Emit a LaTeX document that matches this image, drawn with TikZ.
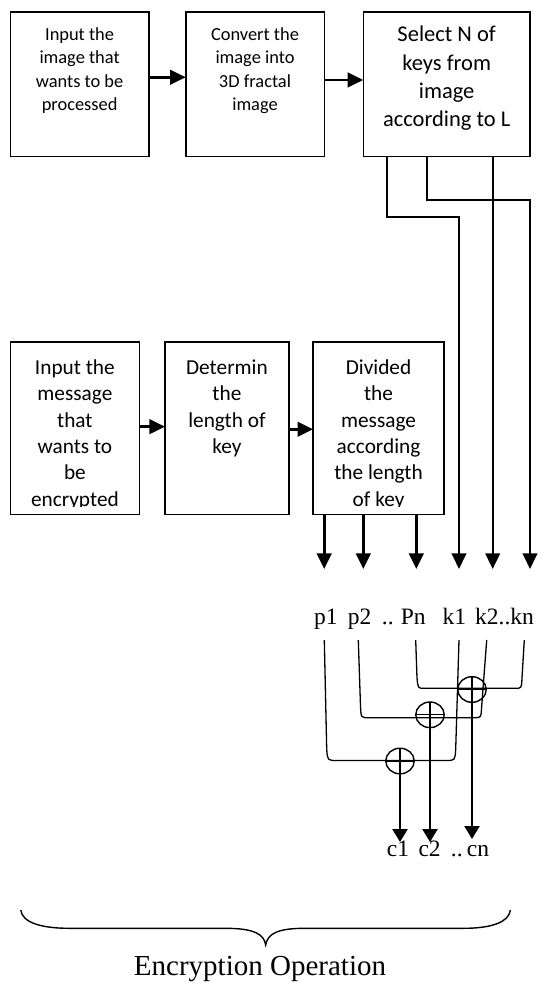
\documentclass[tikz,border=0pt]{standalone}
\usepackage{fontspec}
\setmainfont{Liberation Serif}
\newfontfamily\boxfont{Carlito}
\usetikzlibrary{arrows.meta,shapes.geometric,calc}
\begin{document}
\begin{tikzpicture}[x=1pt,y=-1pt,
  box/.style={draw,line width=1.6pt,inner sep=0pt,outer sep=0pt,anchor=north west},
  tsmall/.style={font=\boxfont\fontsize{18.4}{23.3}\selectfont,align=center,inner sep=0pt,anchor=north},
  tbig/.style={font=\boxfont\fontsize{22.5}{28.3}\selectfont,align=center,inner sep=0pt,anchor=north},
  tlow/.style={font=\boxfont\fontsize{21.3}{26.3}\selectfont,align=center,inner sep=0pt,anchor=north},
  arr/.style={line width=2.6pt,-{Triangle[length=15.6pt,width=14.5pt]}},
  keyarr/.style={line width=2.2pt,-{Triangle[length=15.6pt,width=14.5pt]}},
  carr/.style={line width=2.4pt,-{Triangle[length=13pt,width=15pt]}},
  ulink/.style={line width=1.3pt},
  xor/.style={ellipse,draw,line width=1.4pt,minimum width=28.5pt,minimum height=25.6pt,inner sep=0pt,outer sep=0pt},
  lab/.style={font=\fontsize{23.5}{28}\selectfont,inner sep=0pt,anchor=base west}
]
\fill[white] (0,0) rectangle (542,983);
\useasboundingbox (0,0) rectangle (542,983);

% top row boxes
\node[box,minimum width=138.4pt,minimum height=144.3pt] (b1) at (10.4,12) {};
\node[box,minimum width=138.6pt,minimum height=144.3pt] (b2) at (185.7,12) {};
\node[box,minimum width=166.7pt,minimum height=144.3pt] (b3) at (363.3,12) {};
\node[tsmall] (t1) at (b1.north |- 0,27.5) {Input the\\image that\\wants to be\\processed};
\node[tsmall] (t2) at (b2.north |- 0,27.5) {Convert the\\image into\\3D fractal\\image};
\node[tbig] (t3) at (b3.north |- 0,26) {Select N of\\keys from\\image\\according to L};

\draw[arr] ([yshift=6.9pt]b1.east) -- ([yshift=6.9pt]b1.east -| b2.west);
\draw[arr] ([yshift=4.2pt]b2.east) -- ([yshift=4.2pt]b2.east -| b3.west);

% lower row boxes
\node[box,minimum width=129pt,minimum height=172.3pt] (b4) at (10.4,342) {};
\node[box,minimum width=123.9pt,minimum height=172.3pt] (b5) at (165,342) {};
\node[box,minimum width=130.9pt,minimum height=172.3pt] (b6) at (313.1,342) {};
\begin{scope}
\clip ([yshift=-1pt]b4.north west) rectangle ([yshift=8pt]b4.south east);
\node[tlow] (t4) at (b4.north |- 0,359.7) {Input the\\message\\that\\wants to\\be\\encrypted};
\end{scope}
\node[tlow] (t5) at (b5.north |- 0,359.7) {Determin\\the\\length of\\key};
\begin{scope}
\clip ([yshift=-1pt]b6.north west) rectangle ([yshift=8pt]b6.south east);
\node[tlow] (t6) at (b6.north |- 0,359.7) {Divided\\the\\message\\according\\the length\\of key};
\end{scope}

\draw[arr] ([yshift=1.5pt]b4.east) -- ([yshift=1.5pt]b4.east -| b5.west);
\draw[arr] ([yshift=-1.1pt]b5.east) -- ([yshift=-1.1pt]b5.east -| b6.west);

% arrow end points
\coordinate (pa1) at (324.2,569);
\coordinate (pa2) at (363.3,569);
\coordinate (pa3) at (416.3,569);
\coordinate (ka1) at (459,569);
\coordinate (ka2) at (530,569);
\coordinate (ka3) at (492.7,569);
\coordinate (s1) at (387.3,0);
\coordinate (s2) at (427.3,0);

\draw[arr] (b6.south -| pa1) -- (pa1);
\draw[arr] (b6.south -| pa2) -- (pa2);
\draw[arr] (b6.south -| pa3) -- (pa3);

\draw[keyarr] (b3.south -| s1) -- ++(0,61) -| (ka1);
\draw[keyarr] (b3.south -| s2) -- ++(0,43.7) -| (ka2);
\draw[keyarr] (b3.south -| ka3) -- (ka3);

% labels
\node[lab] (lp1) at (314,624) {p1};
\node[lab] (lp2) at (347.7,624) {p2};
\node[lab] (ldt) at (381.7,624) {..};
\node[lab] (lpn) at (400.7,624) {Pn};
\node[lab] (lk1) at (442.3,624) {k1};
\node[lab] (lkn) at (475,624) {k2..kn};

% U links
\draw[ulink] (324.3,640) -- (326.7,749) .. controls (327.5,760.5) .. (337,760.5) -- (446,760.5) .. controls (455,760.5) .. (455.7,749) -- (459,640);
\draw[ulink] (358.3,640) -- (360.5,706) .. controls (361,717.7) .. (368.3,717.7) -- (475,717.7) .. controls (481,717.7) .. (481.7,706) -- (486.7,640);
\draw[ulink] (415.7,640) -- (417,678) .. controls (418,688.3) .. (424,688.3) -- (515.5,688.3) .. controls (521.5,688.3) .. (522,678) -- (524.3,640);

% xor gates
\node[xor] (x1) at (400,761) {};
\node[xor] (x2) at (430,714.8) {};
\node[xor] (x3) at (472,689.5) {};
\foreach \g in {x1,x2,x3}{
  \draw[line width=1.2pt] (\g.north) -- (\g.south) (\g.west) -- (\g.east);
}
\coordinate (ce) at (0,842);
\coordinate (cen) at (0,839);
\draw[carr] (x1.south) -- (x1.south |- ce);
\draw[carr] (x2.south) -- (x2.south |- ce);
\draw[carr] (x3.south) -- (x3.south |- cen);

\node[lab] (lc1) at (386.7,856.5) {c1};
\node[lab] (lc2) at (418.3,856.5) {c2};
\node[lab] (lcd) at (450.7,856.5) {..};
\node[lab] (lcn) at (466.7,856.5) {cn};

% brace
\draw[line width=1.4pt] (20.8,910) .. controls (22,922) and (40,928.3) .. (69.2,928.3) -- (225,928.3) .. controls (254,928.3) and (264,934) .. (265.7,945) .. controls (267.5,934) and (277,928.3) .. (304.5,928.3) -- (463.7,928.3) .. controls (492,928.3) and (509,922) .. (510.4,910);
\node[font=\fontsize{29}{33}\selectfont,inner sep=0pt,anchor=base] (eo) at (260,975) {Encryption Operation};
\end{tikzpicture}
\end{document}
